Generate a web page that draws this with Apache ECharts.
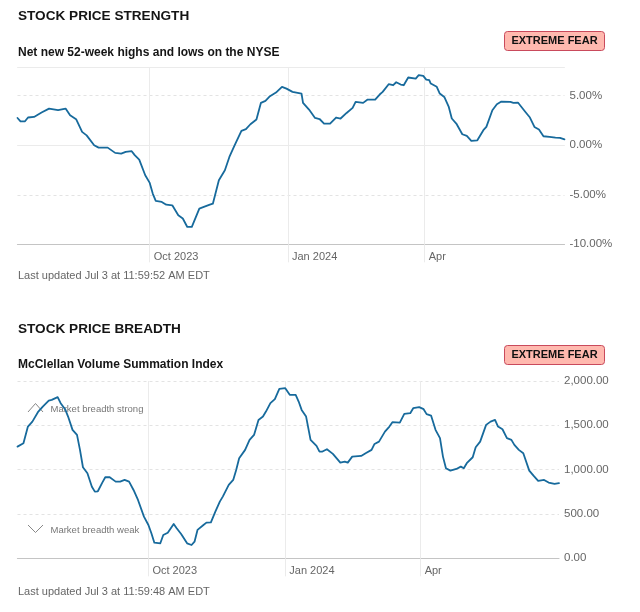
<!DOCTYPE html>
<html>
<head>
<meta charset="utf-8">
<script src="https://cdn.jsdelivr.net/npm/echarts@6/dist/echarts.min.js"></script>
<style>
html,body{margin:0;padding:0;background:#fff;}
#chart{width:640px;height:612px;}
</style>
</head>
<body>
<div id="chart"></div>
<script>
// ---- Data: Stock price strength (net new 52-week highs/lows, %) ----
const strengthDates = ['2023-07-05','2023-07-07','2023-07-10','2023-07-12','2023-07-16','2023-07-21','2023-07-26','2023-08-01','2023-08-06','2023-08-09','2023-08-13','2023-08-17','2023-08-20','2023-08-25','2023-08-28','2023-09-03','2023-09-08','2023-09-12','2023-09-15','2023-09-19','2023-09-21','2023-09-24','2023-09-28','2023-10-01','2023-10-03','2023-10-05','2023-10-09','2023-10-12','2023-10-16','2023-10-20','2023-10-23','2023-10-26','2023-10-29','2023-11-03','2023-11-06','2023-11-10','2023-11-12','2023-11-16','2023-11-20','2023-11-23','2023-11-26','2023-12-01','2023-12-04','2023-12-07','2023-12-11','2023-12-14','2023-12-17','2023-12-20','2023-12-24','2023-12-28','2023-12-31','2024-01-04','2024-01-10','2024-01-11','2024-01-15','2024-01-19','2024-01-22','2024-01-25','2024-01-29','2024-02-02','2024-02-05','2024-02-09','2024-02-13','2024-02-15','2024-02-20','2024-02-23','2024-02-28','2024-03-02','2024-03-04','2024-03-08','2024-03-11','2024-03-12','2024-03-13','2024-03-16','2024-03-18','2024-03-21','2024-03-26','2024-03-28','2024-03-31','2024-04-02','2024-04-04','2024-04-05','2024-04-09','2024-04-11','2024-04-14','2024-04-17','2024-04-19','2024-04-22','2024-04-26','2024-04-29','2024-05-02','2024-05-06','2024-05-10','2024-05-12','2024-05-16','2024-05-19','2024-05-22','2024-05-28','2024-05-30','2024-06-02','2024-06-07','2024-06-10','2024-06-13','2024-06-16','2024-06-19','2024-06-23','2024-06-27','2024-06-30','2024-07-03'];
const strengthValues = [2.75,2.42,2.42,2.8,2.86,3.3,3.7,3.54,3.7,3.03,2.63,1.35,1.0,0.0,-0.24,-0.24,-0.77,-0.84,-0.67,-0.6,-1.0,-1.45,-3.03,-3.8,-4.88,-5.62,-5.72,-6.0,-6.06,-7.07,-7.4,-8.25,-8.25,-6.4,-6.23,-6.0,-5.9,-3.54,-2.53,-1.18,-0.17,1.45,1.62,2.12,2.6,4.28,4.48,4.95,5.32,5.9,5.72,5.39,5.22,4.28,3.6,2.76,2.65,2.19,2.19,2.8,2.7,3.26,3.77,4.38,4.28,4.61,4.61,5.12,5.39,6.16,6.06,5.9,6.36,6.13,6.06,6.84,6.73,7.07,7.0,6.63,6.57,6.23,5.9,5.22,4.88,3.87,2.7,2.19,1.11,0.94,0.44,0.5,1.52,1.85,3.54,4.14,4.41,4.38,4.28,4.31,3.36,2.8,1.85,1.58,0.91,0.84,0.77,0.74,0.6];

// ---- Data: Stock price breadth (McClellan Volume Summation Index) ----
const breadthDates = ['2023-07-05','2023-07-09','2023-07-12','2023-07-15','2023-07-19','2023-07-22','2023-07-26','2023-07-28','2023-08-01','2023-08-03','2023-08-06','2023-08-08','2023-08-11','2023-08-14','2023-08-16','2023-08-18','2023-08-21','2023-08-24','2023-08-26','2023-08-28','2023-08-31','2023-09-02','2023-09-05','2023-09-09','2023-09-12','2023-09-15','2023-09-18','2023-09-21','2023-09-24','2023-09-28','2023-10-01','2023-10-03','2023-10-05','2023-10-09','2023-10-11','2023-10-14','2023-10-18','2023-10-20','2023-10-23','2023-10-27','2023-10-30','2023-11-01','2023-11-03','2023-11-07','2023-11-09','2023-11-12','2023-11-15','2023-11-18','2023-11-20','2023-11-24','2023-11-27','2023-11-29','2023-12-01','2023-12-05','2023-12-08','2023-12-11','2023-12-14','2023-12-17','2023-12-19','2023-12-22','2023-12-25','2023-12-28','2024-01-01','2024-01-04','2024-01-08','2024-01-10','2024-01-12','2024-01-15','2024-01-18','2024-01-22','2024-01-24','2024-01-26','2024-01-29','2024-02-02','2024-02-07','2024-02-10','2024-02-12','2024-02-15','2024-02-21','2024-02-24','2024-02-28','2024-03-01','2024-03-04','2024-03-08','2024-03-11','2024-03-13','2024-03-18','2024-03-21','2024-03-25','2024-03-27','2024-03-31','2024-04-03','2024-04-05','2024-04-08','2024-04-11','2024-04-14','2024-04-16','2024-04-18','2024-04-21','2024-04-25','2024-04-28','2024-04-30','2024-05-02','2024-05-06','2024-05-08','2024-05-11','2024-05-12','2024-05-15','2024-05-18','2024-05-21','2024-05-23','2024-05-26','2024-05-29','2024-06-01','2024-06-03','2024-06-06','2024-06-09','2024-06-13','2024-06-16','2024-06-19','2024-06-23','2024-06-26','2024-06-30','2024-07-03'];
const breadthValues = [1260,1298,1486,1542,1655,1712,1779,1787,1818,1750,1682,1599,1449,1392,1223,1027,960,808,752,756,854,914,914,865,865,884,865,771,658,470,376,282,176,169,263,289,387,339,274,169,150,187,320,376,402,406,526,639,696,828,884,997,1129,1223,1336,1392,1561,1599,1655,1750,1795,1911,1919,1844,1844,1768,1674,1599,1336,1268,1204,1204,1231,1178,1079,1091,1079,1147,1155,1185,1223,1290,1316,1429,1486,1535,1531,1629,1637,1693,1705,1682,1626,1610,1449,1355,1147,1016,989,1008,1034,1016,1073,1140,1253,1316,1336,1505,1542,1561,1486,1456,1355,1336,1279,1223,1185,989,929,873,884,854,839,847];

// ---- Axis ticks / labels ----
const xStart = '2023-07-05';
const xEnd = '2024-07-03';
const xTickDates = ['2023-10-01','2024-01-01','2024-04-01'];
const xTickLabels = ['Oct 2023','Jan 2024','Apr'];
const strengthTicks = [-10,-5,0,5];
const breadthTicks = [0,500,1000,1500,2000];

const toTs = s => new Date(s + 'T00:00:00').getTime();
const tickTs = xTickDates.map(toTs);
const FONT = "'Liberation Sans', Arial, sans-serif";
const LINE_COLOR = '#176a9c';

function xAxisFor(gi) {
  return {
    type: 'value', gridIndex: gi,
    min: toTs(xStart), max: toTs(xEnd),
    axisLine: { show: true, onZero: false, lineStyle: { color: '#c4c4c4', width: 1.2 } },
    axisTick: { show: true, customValues: tickTs, length: 18, lineStyle: { color: '#ebebeb' } },
    axisLabel: {
      customValues: tickTs,
      formatter: v => { const i = tickTs.indexOf(v); return i >= 0 ? xTickLabels[i] : ''; },
      align: 'left', margin: 7, padding: [0, 0, 0, 4],
      color: '#666', fontSize: 11, fontFamily: FONT
    },
    splitLine: { show: false }
  };
}

const chart = echarts.init(document.getElementById('chart'));

const fmtPct = v => v.toFixed(2) + '%';
const fmtNum = v => v.toFixed(2).replace(/\B(?=(\d{3})+(?!\d))/g, ',');

function badge(y) {
  return {
    type: 'group',
    children: [
      { type: 'rect', shape: { x: 504.5, y: y + 0.5, width: 100, height: 19, r: 3 },
        style: { fill: '#ffb9af', stroke: '#c94a5c', lineWidth: 1 } },
      { type: 'text', style: { x: 554.5, y: y + 10, text: 'EXTREME FEAR', fill: '#111',
        font: 'bold 11px ' + FONT, textAlign: 'center', textVerticalAlign: 'middle', align: 'center', verticalAlign: 'middle' } }
    ]
  };
}
function txt(x, y, text, font, fill) {
  return { type: 'text', style: { x: x, y: y, text: text, font: font, fill: fill,
    textAlign: 'left', textVerticalAlign: 'middle', align: 'left', verticalAlign: 'middle' } };
}

const lineStyle = { color: LINE_COLOR, width: 1.8, cap: 'round', join: 'round' };

const option = {
  animation: false,
  backgroundColor: '#fff',
  grid: [
    { left: 17.5, right: 75.5, top: 67, bottom: 612 - 244.3 },
    { left: 17.5, right: 81, top: 381, bottom: 612 - 558.3 }
  ],
  xAxis: [xAxisFor(0), xAxisFor(1)],
  yAxis: [
    {
      type: 'value', gridIndex: 0, position: 'right', min: -10, max: 7.9, interval: 5,
      axisLine: { show: false }, axisTick: { show: false },
      axisLabel: { customValues: strengthTicks, formatter: fmtPct, color: '#666', fontSize: 11.5, fontFamily: FONT, margin: 5 },
      splitLine: { show: true, lineStyle: { color: '#e3e3e3', type: [3, 3] } }
    },
    {
      type: 'value', gridIndex: 1, position: 'right', min: 0, max: 2000, interval: 500,
      axisLine: { show: false }, axisTick: { show: false },
      axisLabel: { customValues: breadthTicks, formatter: fmtNum, color: '#666', fontSize: 11.5, fontFamily: FONT, margin: 5 },
      splitLine: { show: true, lineStyle: { color: '#e3e3e3', type: [3, 3] } }
    }
  ],
  series: [
    {
      type: 'line', xAxisIndex: 0, yAxisIndex: 0, data: [], z: 1, silent: true,
      markLine: { silent: true, symbol: 'none', label: { show: false }, z: 1,
        lineStyle: { color: '#ebebeb', type: 'solid', width: 1 },
        data: tickTs.map(t => ({ xAxis: t })).concat([{ yAxis: 0 }, { yAxis: 7.9 }]) }
    },
    {
      type: 'line', xAxisIndex: 1, yAxisIndex: 1, data: [], z: 1, silent: true,
      markLine: { silent: true, symbol: 'none', label: { show: false }, z: 1,
        lineStyle: { color: '#ebebeb', type: 'solid', width: 1 },
        data: tickTs.map(t => ({ xAxis: t })) }
    },
    {
      name: 'Stock price strength', type: 'line', xAxisIndex: 0, yAxisIndex: 0, z: 5,
      data: strengthDates.map((d, i) => [toTs(d), strengthValues[i]]),
      showSymbol: false, symbol: 'none', smooth: false, lineStyle: lineStyle
    },
    {
      name: 'Stock price breadth', type: 'line', xAxisIndex: 1, yAxisIndex: 1, z: 5,
      data: breadthDates.map((d, i) => [toTs(d), breadthValues[i]]),
      showSymbol: false, symbol: 'none', smooth: false, lineStyle: lineStyle
    }
  ],
  graphic: [
    txt(18, 16, 'STOCK PRICE STRENGTH', 'bold 13.6px ' + FONT, '#151515'),
    txt(18, 52.5, 'Net new 52-week highs and lows on the NYSE', 'bold 12px ' + FONT, '#151515'),
    badge(31),
    txt(18, 276, 'Last updated Jul 3 at 11:59:52 AM EDT', '11px ' + FONT, '#666'),
    txt(18, 329, 'STOCK PRICE BREADTH', 'bold 13.6px ' + FONT, '#151515'),
    txt(18, 365, 'McClellan Volume Summation Index', 'bold 12px ' + FONT, '#151515'),
    badge(345),
    { type: 'polyline', shape: { points: [[28, 412], [35.5, 403.5], [43, 412]] }, style: { stroke: '#888', lineWidth: 1, fill: null }, z: 2 },
    txt(50.5, 409, 'Market breadth strong', '9.5px ' + FONT, '#777'),
    { type: 'polyline', shape: { points: [[28, 525], [35.5, 532.5], [43, 525]] }, style: { stroke: '#888', lineWidth: 1, fill: null }, z: 2 },
    txt(50.5, 530.5, 'Market breadth weak', '9.5px ' + FONT, '#777'),
    txt(18, 591.5, 'Last updated Jul 3 at 11:59:48 AM EDT', '11px ' + FONT, '#666')
  ]
};
chart.setOption(option);
</script>
</body>
</html>
